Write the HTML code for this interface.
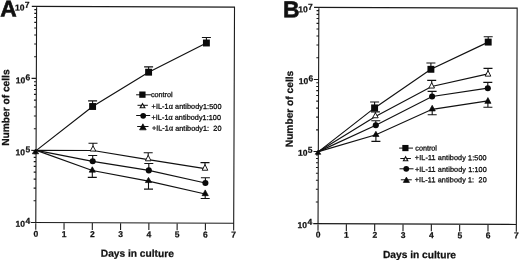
<!DOCTYPE html>
<html><head><meta charset="utf-8"><title>Figure</title>
<style>
html,body{margin:0;padding:0;background:#fff;}
body{width:520px;height:260px;overflow:hidden;}
svg{display:block;}
text{font-family:"Liberation Sans",sans-serif;fill:#111;text-rendering:geometricPrecision;}
.ax{fill:none;stroke:#1a1a1a;stroke-width:1.1;}
.ln{fill:none;stroke:#111;stroke-width:1.2;}
.eb{fill:none;stroke:#111;stroke-width:1.1;}
.f{fill:#0a0a0a;stroke:none;}
.ft{fill:#0a0a0a;stroke:#0a0a0a;stroke-width:0.7;stroke-linejoin:round;}
.o{fill:#fff;stroke:#111;stroke-width:0.95;stroke-linejoin:miter;}
.big{font-size:22.8px;font-weight:bold;stroke:#111;stroke-width:0.6px;}
.tk{font-size:8.5px;font-weight:bold;stroke:#111;stroke-width:0.25px;}
.al{font-size:10.2px;font-weight:bold;stroke:#111;stroke-width:0.25px;}
.lg{font-size:7.2px;stroke:#111;stroke-width:0.3px;}
.ll{fill:none;stroke:#111;stroke-width:1;}
.o2{fill:#fff;stroke:#111;stroke-width:1.15;}
</style></head><body>
<svg width="520" height="260" viewBox="0 0 520 260">
<rect width="520" height="260" fill="#fff"/>
<path class="ax" transform="rotate(0.22 135.15 114.80)" d="M31.40 6.75H234.10V230.05M36.20 6.75V230.05M31.40 222.85H234.10M33.90 57.10H36.20M33.90 44.41H36.20M33.90 35.41H36.20M33.90 28.43H36.20M33.90 22.73H36.20M33.90 17.91H36.20M33.90 13.73H36.20M33.90 10.05H36.20M31.40 78.78H36.20M33.90 129.13H36.20M33.90 116.45H36.20M33.90 107.45H36.20M33.90 100.47H36.20M33.90 94.76H36.20M33.90 89.94H36.20M33.90 85.76H36.20M33.90 82.08H36.20M31.40 150.82H36.20M33.90 201.17H36.20M33.90 188.48H36.20M33.90 179.48H36.20M33.90 172.50H36.20M33.90 166.80H36.20M33.90 161.97H36.20M33.90 157.80H36.20M33.90 154.11H36.20M64.47 222.85V230.05M92.74 222.85V230.05M121.01 222.85V230.05M149.29 222.85V230.05M177.56 222.85V230.05M205.83 222.85V230.05"/>
<path class="ax" transform="rotate(0.22 417.60 115.90)" d="M313.65 7.75H516.75V231.25M318.45 7.75V231.25M313.65 224.05H516.75M316.15 58.15H318.45M316.15 45.45H318.45M316.15 36.44H318.45M316.15 29.45H318.45M316.15 23.75H318.45M316.15 18.92H318.45M316.15 14.74H318.45M316.15 11.05H318.45M313.65 79.85H318.45M316.15 130.25H318.45M316.15 117.55H318.45M316.15 108.54H318.45M316.15 101.55H318.45M316.15 95.85H318.45M316.15 91.02H318.45M316.15 86.84H318.45M316.15 83.15H318.45M313.65 151.95H318.45M316.15 202.35H318.45M316.15 189.65H318.45M316.15 180.64H318.45M316.15 173.65H318.45M316.15 167.95H318.45M316.15 163.12H318.45M316.15 158.94H318.45M316.15 155.25H318.45M346.78 224.05V231.25M375.11 224.05V231.25M403.44 224.05V231.25M431.76 224.05V231.25M460.09 224.05V231.25M488.42 224.05V231.25"/>
<path class="ln" d="M36.40 150.40L92.60 106.50L148.60 72.20L206.40 43.00"/>
<path class="eb" d="M92.60 106.50V100.90M88.10 100.90H97.10"/>
<path class="eb" d="M148.60 72.20V66.90M144.10 66.90H153.10"/>
<path class="eb" d="M206.40 43.00V37.50M201.90 37.50H210.90"/>
<rect class="f" x="89.15" y="103.05" width="6.9" height="6.9"/>
<rect class="f" x="145.15" y="68.75" width="6.9" height="6.9"/>
<rect class="f" x="202.95" y="39.55" width="6.9" height="6.9"/>
<path class="ln" d="M36.40 150.40L93.00 150.50L148.20 159.60L205.00 168.60"/>
<path class="eb" d="M93.00 150.50V143.30M88.50 143.30H97.50"/>
<path class="eb" d="M148.20 159.60V152.80M143.70 152.80H152.70"/>
<path class="eb" d="M205.00 168.60V162.60M200.50 162.60H209.50"/>
<path class="o" d="M93.00 145.90L95.80 151.05H90.20Z"/>
<path class="o" d="M148.20 155.30L151.00 160.80H145.40Z"/>
<path class="o" d="M205.00 164.60L207.80 170.25H202.20Z"/>
<path class="ln" d="M36.40 150.40L92.70 161.30L148.80 170.40L205.40 183.00"/>
<path class="eb" d="M92.70 161.30V155.50M88.20 155.50H97.20"/>
<path class="eb" d="M148.80 170.40V163.50M144.30 163.50H153.30"/>
<path class="eb" d="M205.40 183.00V177.80M200.90 177.80H209.90"/>
<circle class="f" cx="92.70" cy="161.30" r="3.05"/>
<circle class="f" cx="148.80" cy="170.40" r="3.05"/>
<circle class="f" cx="205.40" cy="183.00" r="3.05"/>
<path class="ln" d="M36.40 150.40L92.30 170.50L148.50 181.20L205.20 194.00"/>
<path class="eb" d="M92.30 170.50V177.40M87.80 177.40H96.80"/>
<path class="eb" d="M148.50 181.20V189.10M144.00 189.10H153.00"/>
<path class="eb" d="M205.20 194.00V198.50M200.70 198.50H209.70"/>
<path class="ft" d="M92.30 166.80L95.40 172.15H89.20Z"/>
<path class="ft" d="M148.50 177.40L151.60 182.55H145.40Z"/>
<path class="ft" d="M205.20 189.90L208.30 195.65H202.10Z"/>
<path class="ft" d="M35.50 149.00L38.70 153.75H32.30Z"/>
<path class="ln" d="M318.50 151.60L375.40 116.40L431.70 86.50L488.00 73.80"/>
<path class="eb" d="M375.40 116.40V111.90M370.90 111.90H379.90"/>
<path class="eb" d="M431.70 86.50V80.40M427.20 80.40H436.20"/>
<path class="eb" d="M488.00 73.80V68.40M483.50 68.40H492.50"/>
<path class="o" d="M375.40 112.80L378.20 117.75H372.60Z"/>
<path class="o" d="M431.70 82.70L434.50 88.05H428.90Z"/>
<path class="o" d="M488.00 70.60L490.80 76.15H485.20Z"/>
<path class="ln" d="M318.50 151.60L374.60 107.90L430.90 69.30L488.20 42.10"/>
<path class="eb" d="M374.60 107.90V102.00M370.10 102.00H379.10"/>
<path class="eb" d="M430.90 69.30V63.00M426.40 63.00H435.40"/>
<path class="eb" d="M488.20 42.10V36.70M483.70 36.70H492.70"/>
<rect class="f" x="371.15" y="104.45" width="6.9" height="6.9"/>
<rect class="f" x="427.45" y="65.85" width="6.9" height="6.9"/>
<rect class="f" x="484.75" y="38.65" width="6.9" height="6.9"/>
<path class="ln" d="M318.50 151.60L375.80 125.30L432.10 96.50L487.80 88.20"/>
<path class="eb" d="M375.80 125.30V120.70M371.30 120.70H380.30"/>
<path class="eb" d="M432.10 96.50V91.40M427.60 91.40H436.60"/>
<path class="eb" d="M487.80 88.20V82.40M483.30 82.40H492.30"/>
<circle class="f" cx="375.80" cy="125.30" r="3.05"/>
<circle class="f" cx="432.10" cy="96.50" r="3.05"/>
<circle class="f" cx="487.80" cy="88.20" r="3.05"/>
<path class="ln" d="M318.50 151.60L375.90 134.80L432.20 109.30L487.90 100.80"/>
<path class="eb" d="M375.90 134.80V141.40M371.40 141.40H380.40"/>
<path class="eb" d="M432.20 109.30V114.80M427.70 114.80H436.70"/>
<path class="eb" d="M487.90 100.80V107.30M483.40 107.30H492.40"/>
<path class="ft" d="M375.90 131.30L379.00 136.50H372.80Z"/>
<path class="ft" d="M432.20 105.30L435.30 110.95H429.10Z"/>
<path class="ft" d="M487.90 97.60L491.00 103.35H484.80Z"/>
<path class="ft" d="M318.00 150.20L320.80 154.25H315.20Z"/>
<path class="ll" d="M136.1 94.80H151.2"/>
<rect class="f" x="139.25" y="91.50" width="6.3" height="6.3"/>
<text class="lg" transform="translate(150.90 96.90) rotate(0.22)">control</text>
<path class="ll" d="M137.5 105.30H147.9"/>
<path class="o2" d="M142.55 103.75L144.85 107.75H140.25Z"/>
<text class="lg" style="letter-spacing:0.1px" transform="translate(151.60 108.70) rotate(0.22)">+IL-1α antibody1:500</text>
<path class="ll" d="M136.2 115.50H150.2"/>
<circle class="f" cx="143.20" cy="115.80" r="2.85"/>
<text class="lg" style="letter-spacing:0.08px" transform="translate(151.50 119.70) rotate(0.22)">+IL-1α antibody1:100</text>
<path class="ll" d="M137.2 126.50H148.5"/>
<path class="ft" d="M142.90 123.80L146.20 129.85H139.60Z"/>
<text class="lg" style="letter-spacing:0.08px" transform="translate(151.90 130.55) rotate(0.22)">+IL-1α antibody1:  20</text>
<path class="ll" d="M399.1 148.10H413.0"/>
<rect class="f" x="402.30" y="144.95" width="6.2" height="6.2"/>
<text class="lg" transform="translate(415.30 150.50) rotate(0.22)">control</text>
<path class="ll" d="M400.3 158.50H410.9"/>
<path class="o2" d="M405.60 156.70L407.75 160.75H403.45Z"/>
<text class="lg" style="letter-spacing:0.13px" transform="translate(414.80 159.95) rotate(0.22)">+IL-11 antibody 1:500</text>
<path class="ll" d="M399.5 168.80H413.5"/>
<circle class="f" cx="406.25" cy="168.80" r="2.9"/>
<text class="lg" style="letter-spacing:0.13px" transform="translate(414.90 171.70) rotate(0.22)">+IL-11 antibody 1:100</text>
<path class="ll" d="M400.8 179.80H411.8"/>
<path class="ft" d="M406.40 177.10L409.45 182.45H403.35Z"/>
<text class="lg" style="letter-spacing:0.13px" transform="translate(414.70 182.10) rotate(0.22)">+IL-11 antibody 1:  20</text>
<text class="big" transform="translate(0.30 16.60) rotate(0.22)">A</text>
<text class="big" transform="translate(283.10 17.20) rotate(0.22)">B</text>
<text class="tk" transform="translate(15.00 10.40) rotate(0.22)">10<tspan dx="0.3" dy="-2.8">7</tspan></text>
<text class="tk" transform="translate(15.70 83.20) rotate(0.22)">10<tspan dx="0.3" dy="-2.9">6</tspan></text>
<text class="tk" transform="translate(15.60 155.20) rotate(0.22)">10<tspan dx="0.3" dy="-3.1">5</tspan></text>
<text class="tk" transform="translate(15.60 226.80) rotate(0.22)">10<tspan dx="0.3" dy="-3.2">4</tspan></text>
<text class="tk" transform="translate(298.20 12.20) rotate(0.22)">10<tspan dx="0.3" dy="-2.6">7</tspan></text>
<text class="tk" transform="translate(298.80 84.10) rotate(0.22)">10<tspan dx="0.3" dy="-2.9">6</tspan></text>
<text class="tk" transform="translate(298.00 155.80) rotate(0.22)">10<tspan dx="0.3" dy="-3.2">5</tspan></text>
<text class="tk" transform="translate(297.60 228.00) rotate(0.22)">10<tspan dx="0.3" dy="-3.2">4</tspan></text>
<text class="tk" text-anchor="middle" transform="translate(35.80 236.80) rotate(0.22)">0</text>
<text class="tk" text-anchor="middle" transform="translate(64.07 236.91) rotate(0.22)">1</text>
<text class="tk" text-anchor="middle" transform="translate(92.34 237.01) rotate(0.22)">2</text>
<text class="tk" text-anchor="middle" transform="translate(120.61 237.12) rotate(0.22)">3</text>
<text class="tk" text-anchor="middle" transform="translate(148.89 237.23) rotate(0.22)">4</text>
<text class="tk" text-anchor="middle" transform="translate(177.16 237.34) rotate(0.22)">5</text>
<text class="tk" text-anchor="middle" transform="translate(205.43 237.44) rotate(0.22)">6</text>
<text class="tk" text-anchor="middle" transform="translate(233.70 237.55) rotate(0.22)">7</text>
<text class="tk" text-anchor="middle" transform="translate(318.10 237.60) rotate(0.22)">0</text>
<text class="tk" text-anchor="middle" transform="translate(346.43 237.71) rotate(0.22)">1</text>
<text class="tk" text-anchor="middle" transform="translate(374.76 237.82) rotate(0.22)">2</text>
<text class="tk" text-anchor="middle" transform="translate(403.09 237.92) rotate(0.22)">3</text>
<text class="tk" text-anchor="middle" transform="translate(431.41 238.03) rotate(0.22)">4</text>
<text class="tk" text-anchor="middle" transform="translate(459.74 238.14) rotate(0.22)">5</text>
<text class="tk" text-anchor="middle" transform="translate(488.07 238.25) rotate(0.22)">6</text>
<text class="tk" text-anchor="middle" transform="translate(516.40 238.35) rotate(0.22)">7</text>
<text class="al" text-anchor="middle" transform="translate(137.30 256.80) rotate(0.22)">Days in culture</text>
<text class="al" text-anchor="middle" transform="translate(419.50 258.10) rotate(0.22)">Days in culture</text>
<text class="al" text-anchor="middle" transform="translate(9.20 107.60) rotate(-89.78)">Number of cells</text>
<text class="al" text-anchor="middle" transform="translate(292.90 109.00) rotate(-89.78)">Number of cells</text>
</svg>
</body></html>
